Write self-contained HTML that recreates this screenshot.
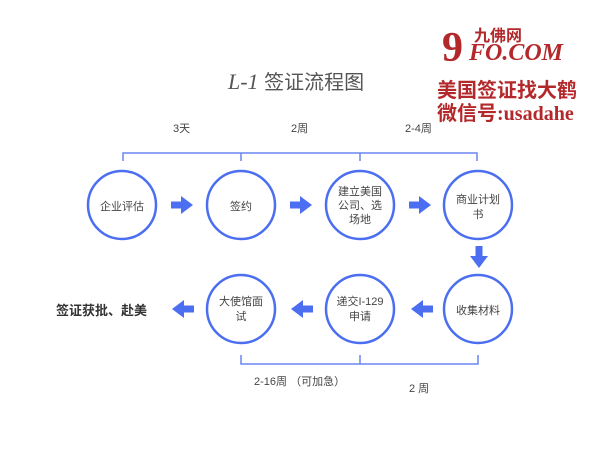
<!DOCTYPE html>
<html><head><meta charset="utf-8"><style>
body{margin:0;width:600px;height:450px;background:#fff;overflow:hidden;position:relative;font-family:"Liberation Sans","Noto Sans CJK SC",sans-serif}
.t{position:absolute;white-space:nowrap}
.wm{color:#b3282b;font-weight:bold;font-family:"Liberation Serif","Noto Serif CJK SC",serif}
</style></head><body>
<svg width="600" height="450" style="position:absolute;left:0;top:0">
<defs><g id="ar"><rect x="0" y="-3.5" width="12" height="7" fill="#4c6ef0"/><path d="M10,-9 L22,0 L10,9Z" fill="#4c6ef0"/></g></defs>
<g fill="none" stroke="#4c6ef0" stroke-width="2.5">
<circle cx="122" cy="205" r="34"/><circle cx="241" cy="205" r="34"/><circle cx="360" cy="205" r="34"/><circle cx="478" cy="205" r="34"/>
<circle cx="478" cy="309" r="34"/><circle cx="360" cy="309" r="34"/><circle cx="241" cy="309" r="34"/>
</g>
<g stroke="#6a86f2" stroke-width="1.5" fill="none">
<path d="M123,161 V153 H477 V161 M241,153 V161 M360,153 V161"/>
<path d="M241,355 V364 H478 V355 M360,355 V364"/>
</g>
<use href="#ar" x="171" y="205"/><use href="#ar" x="290" y="205"/><use href="#ar" x="409" y="205"/>
<use href="#ar" transform="translate(479,246) rotate(90)"/>
<use href="#ar" transform="translate(433,309) rotate(180)"/>
<use href="#ar" transform="translate(313,309) rotate(180)"/>
<use href="#ar" transform="translate(194,309) rotate(180)"/>
</svg>
<div class="t" style="left:228px;top:66px;font-size:20px;color:#555"><span style="font-family:'Liberation Serif',serif;font-style:italic;font-size:22px">L-1</span> 签证流程图</div>
<div class="t" style="left:173px;top:120px;font-size:11px;color:#444">3天</div>
<div class="t" style="left:291px;top:120px;font-size:11px;color:#444">2周</div>
<div class="t" style="left:405px;top:120px;font-size:11px;color:#444">2-4周</div>
<div class="t" style="left:100px;top:198px;font-size:11px;color:#444;width:44px;text-align:center">企业评估</div>
<div class="t" style="left:219px;top:198px;font-size:11px;color:#444;width:44px;text-align:center">签约</div>
<div class="t" style="left:333px;top:185px;font-size:11px;color:#444;width:54px;text-align:center;white-space:normal;line-height:14px">建立美国公司、选场地</div>
<div class="t" style="left:451px;top:193px;font-size:11px;color:#444;width:54px;text-align:center;white-space:normal;line-height:15px">商业计划书</div>
<div class="t" style="left:451px;top:302px;font-size:11px;color:#444;width:54px;text-align:center">收集材料</div>
<div class="t" style="left:331px;top:295px;font-size:11px;color:#444;width:58px;text-align:center;white-space:normal;line-height:15px">递交I-129申请</div>
<div class="t" style="left:214px;top:295px;font-size:11px;color:#444;width:54px;text-align:center;white-space:normal;line-height:15px">大使馆面试</div>
<div class="t" style="left:56px;top:300px;font-size:13px;font-weight:bold;color:#333">签证获批、赴美</div>
<div class="t" style="left:254px;top:373px;font-size:11px;color:#444">2-16周 （可加急）</div>
<div class="t" style="left:409px;top:380px;font-size:11px;color:#444">2 周</div>
<div class="t wm" style="left:474px;top:22px;font-size:16px;font-family:'Noto Sans CJK SC',sans-serif">九佛网</div>
<div class="t wm" style="left:442px;top:24px;font-size:42px">9</div>
<div class="t wm" style="left:469px;top:40px;font-size:24px;font-style:italic">FO.COM</div>
<div class="t wm" style="left:437px;top:78px;font-size:20px;font-family:'Noto Sans CJK SC',sans-serif;line-height:22px">美国签证找大鹤</div>
<div class="t wm" style="left:437px;top:101px;font-size:20px;line-height:22px"><span style="font-family:'Noto Sans CJK SC',sans-serif">微信号</span>:usadahe</div>
</body></html>
